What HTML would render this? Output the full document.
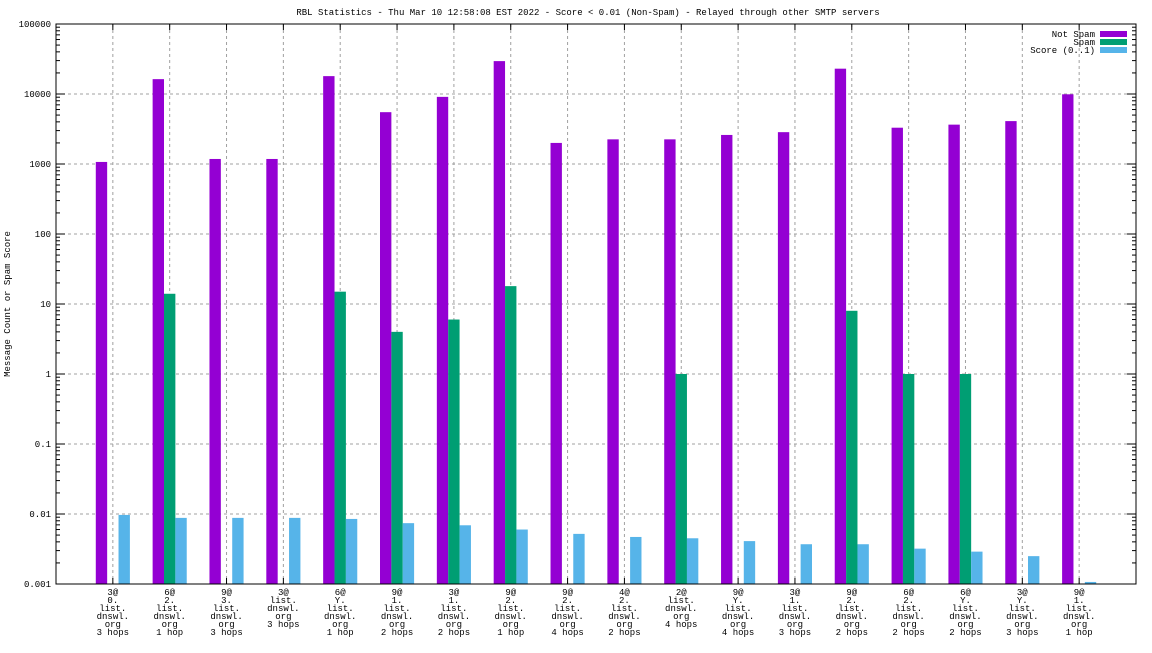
<!DOCTYPE html>
<html><head><meta charset="utf-8"><style>
body{margin:0;background:#fff;width:1152px;height:648px;overflow:hidden}
svg text{font-family:"Liberation Mono",monospace;font-size:9px;fill:#000}
</style></head><body>
<svg id="c" width="1152" height="648"></svg>
<script>
const categories=[["3@","0.","list.","dnswl.","org","3 hops"],["6@","2.","list.","dnswl.","org","1 hop"],["9@","3.","list.","dnswl.","org","3 hops"],["3@","list.","dnswl.","org","3 hops"],["6@","Y.","list.","dnswl.","org","1 hop"],["9@","1.","list.","dnswl.","org","2 hops"],["3@","1.","list.","dnswl.","org","2 hops"],["9@","2.","list.","dnswl.","org","1 hop"],["9@","2.","list.","dnswl.","org","4 hops"],["4@","2.","list.","dnswl.","org","2 hops"],["2@","list.","dnswl.","org","4 hops"],["9@","Y.","list.","dnswl.","org","4 hops"],["3@","1.","list.","dnswl.","org","3 hops"],["9@","2.","list.","dnswl.","org","2 hops"],["6@","2.","list.","dnswl.","org","2 hops"],["6@","Y.","list.","dnswl.","org","2 hops"],["3@","Y.","list.","dnswl.","org","3 hops"],["9@","1.","list.","dnswl.","org","1 hop"]];
const notSpam=[1070,16300,1180,1180,18000,5500,9100,29500,2000,2250,2250,2600,2850,23000,3300,3650,4100,9900];
const spam=[0,14,0,0,15,4,6,18,0,0,1,0,0,8,1,1,0,0];
const score=[0.0097,0.0088,0.0088,0.0088,0.0085,0.0074,0.0069,0.006,0.0052,0.0047,0.0045,0.0041,0.0037,0.0037,0.0032,0.0029,0.0025,0.00107];
const yTicks=["0.001","0.01","0.1","1","10","100","1000","10000","100000"];

const svg=document.getElementById('c');const NS='http://www.w3.org/2000/svg';
const L=56,R=1136,T=24,B=584,n=categories.length;
const step=(R-L)/(n+1);
const X=i=>L+(i+1)*step;
const Y=v=>B-(Math.log10(v)+3)*(B-T)/8;
function mk(tag,a,p){const e=document.createElementNS(NS,tag);for(const k in a)e.setAttribute(k,a[k]);(p||svg).appendChild(e);return e;}
const title=mk('text',{x:588,y:15,'text-anchor':'middle'});title.textContent="RBL Statistics - Thu Mar 10 12:58:08 EST 2022 - Score < 0.01 (Non-Spam) - Relayed through other SMTP servers";


// grid
yTicks.forEach((t,k)=>{const y=Y(parseFloat(t));
 if(k>0&&k<8){const g=mk('line',{x1:L,x2:R,y1:y,y2:y,stroke:'#a0a0a0','stroke-dasharray':'3,3'});}
 mk('line',{x1:L,x2:L+9,y1:y,y2:y,stroke:'#000'});mk('line',{x1:R-9,x2:R,y1:y,y2:y,stroke:'#000'});
 if(k<8)for(let m=2;m<10;m++){const yy=Y(parseFloat(t)*m);mk('line',{x1:L,x2:L+4,y1:yy,y2:yy,stroke:'#000'});mk('line',{x1:R-4,x2:R,y1:yy,y2:yy,stroke:'#000'});}
 const tx=mk('text',{x:L-5,y:y+3,'text-anchor':'end'});tx.textContent=t;
 
 
});
categories.forEach((c,i)=>{const x=X(i);
 const g=mk('line',{x1:x,x2:x,y1:T,y2:B,stroke:'#a0a0a0','stroke-dasharray':'3,3'});
 
 
 mk('line',{x1:x,x2:x,y1:B,y2:B-6,stroke:'#000'});mk('line',{x1:x,x2:x,y1:T,y2:T+6,stroke:'#000'});
 c.forEach((s,j)=>{const t=mk('text',{x:x,y:595+j*8,'text-anchor':'middle'});t.textContent=s;
  
  });
});
const bw=step*0.2;
const series=[[notSpam,'#9400d3',-1,'bar-not-spam'],[spam,'#009e73',0,'bar-spam'],[score,'#56b4e9',1,'bar-score']];
series.forEach(([d,col,off,nm])=>d.forEach((v,i)=>{if(!(v>0))return;const y=Y(v);const cx=X(i)+off*bw;
 const r=mk('rect',{x:cx-bw/2,y:y,width:bw,height:B-y,fill:col});
 
 }));
const fr=mk('rect',{x:L,y:T,width:R-L,height:B-T,fill:'none',stroke:'#000'});


// legend
[['Not Spam','#9400d3'],['Spam','#009e73'],['Score (0..1)','#56b4e9']].forEach(([t,c],k)=>{const y=34+k*8;
 const tx=mk('text',{x:1095,y:y+3,'text-anchor':'end'});tx.textContent=t;
 
 
 mk('rect',{x:1100,y:y-3,width:27,height:6,fill:c});});
const yl=mk('text',{x:10,y:304,'text-anchor':'middle',transform:'rotate(-90 10 304)'});yl.textContent="Message Count or Spam Score";


</script>
</body></html>
